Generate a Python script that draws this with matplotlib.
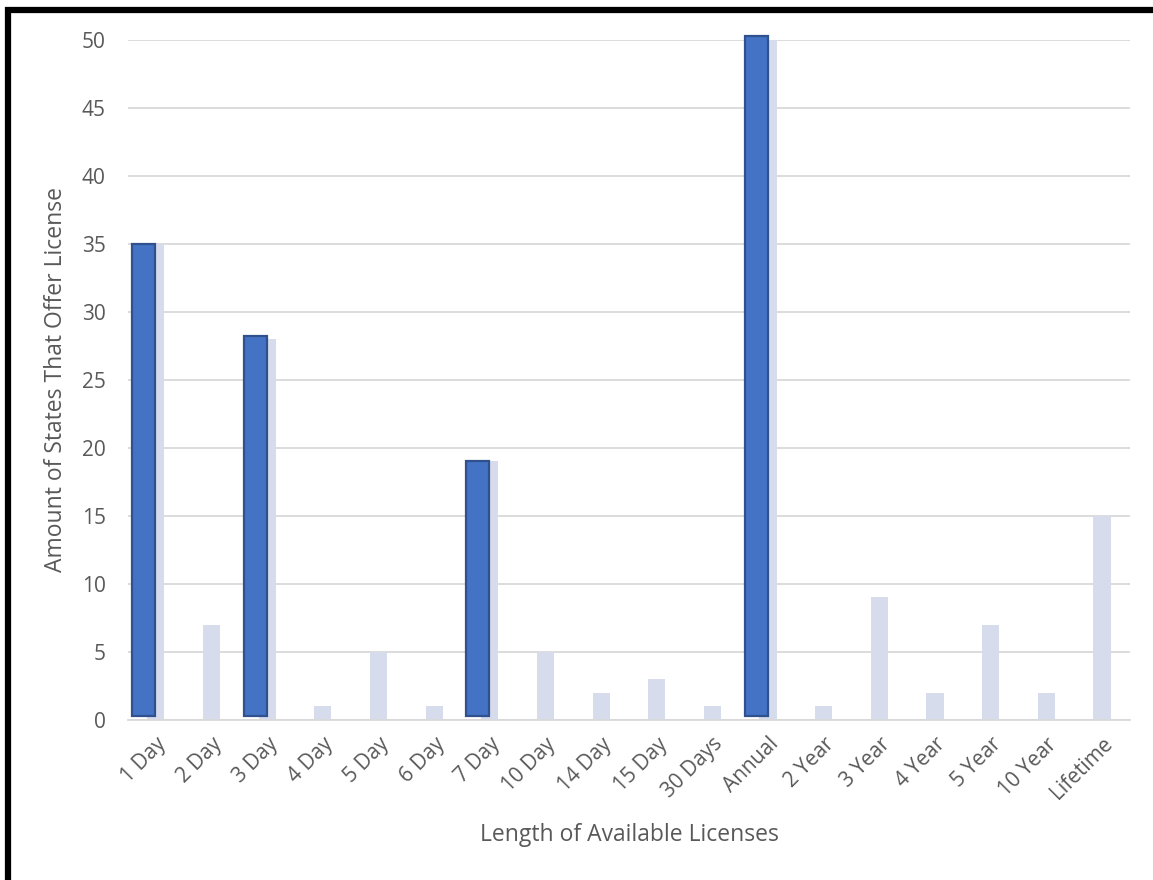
import matplotlib.pyplot as plt
import matplotlib.patches as patches
import numpy as np

plt.rcParams['font.family'] = ['Open Sans', 'DejaVu Sans']

categories = ['1 Day', '2 Day', '3 Day', '4 Day', '5 Day', '6 Day', '7 Day', '10 Day',
              '14 Day', '15 Day', '30 Days', 'Annual', '2 Year', '3 Year', '4 Year',
              '5 Year', '10 Year', 'Lifetime']
states = [35, 7, 28, 1, 5, 1, 19, 5, 2, 3, 1, 50, 1, 9, 2, 7, 2, 15]

# highlighted lengths drawn on top of the plain bars
highlight = ['1 Day', '3 Day', '7 Day', 'Annual']
highlight_top = [35.0, 28.2, 19.0, 50.3]
highlight_base = 0.3

text_col = '#595959'

fig = plt.figure(figsize=(11.53, 8.8), dpi=100)
ax = fig.add_axes([0.111, 0.182, 0.869, 0.773])

x = np.arange(len(categories))
ax.bar(x, states, width=0.31, color='#D6DCEC', zorder=2)

hx = np.array([categories.index(c) for c in highlight])
ax.bar(hx - 0.215, np.array(highlight_top) - highlight_base, bottom=highlight_base,
       width=0.41, color='#4472C4', edgecolor='#2F528F', linewidth=1.6,
       zorder=3, clip_on=False)

ax.set_xlim(-0.5, len(categories) - 0.5)
ax.set_ylim(0, 50)
ax.set_yticks(range(0, 51, 5))
ax.yaxis.grid(True, color='#D9D9D9', linewidth=1.3)
ax.set_axisbelow(True)
for s in ['top', 'right', 'left']:
    ax.spines[s].set_visible(False)
ax.spines['bottom'].set_color('#D9D9D9')
ax.spines['bottom'].set_linewidth(1.3)
ax.tick_params(length=0, colors=text_col, labelsize=15)
ax.tick_params(axis='y', pad=16)
ax.set_xticks(x)
ax.set_xticklabels(categories, rotation=45, ha='right', rotation_mode='anchor')
ax.tick_params(axis='x', pad=10)

ax.set_ylabel('Amount of States That Offer License', color=text_col, fontsize=16.5, labelpad=10)
ax.set_xlabel('Length of Available Licenses', color=text_col, fontsize=16.5, labelpad=14)

border = patches.Rectangle((8 / 1153, -0.05), 1.2, 1.05 - 10 / 880,
                           transform=fig.transFigure, fill=False,
                           edgecolor='black', linewidth=4.5, clip_on=False)
fig.patches.append(border)

fig.savefig('out.png', dpi=100)
